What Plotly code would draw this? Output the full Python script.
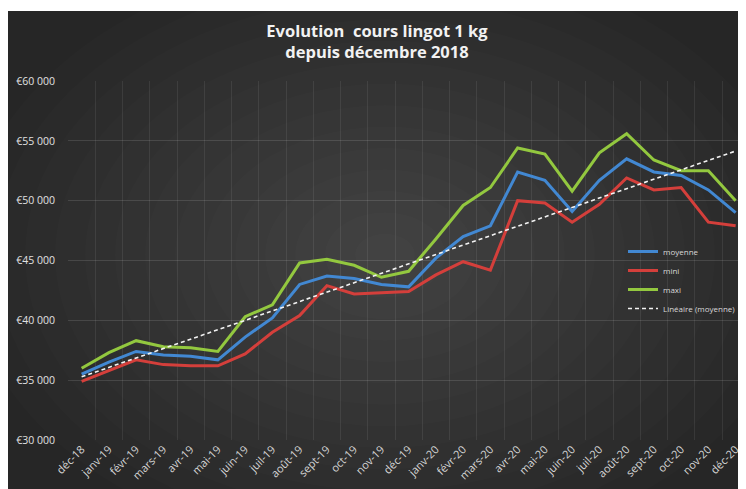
import plotly.graph_objects as go
import numpy as np

# --- data ---
mois = ['déc-18', 'janv-19', 'févr-19', 'mars-19', 'avr-19', 'mai-19', 'juin-19',
        'juil-19', 'août-19', 'sept-19', 'oct-19', 'nov-19', 'déc-19', 'janv-20',
        'févr-20', 'mars-20', 'avr-20', 'mai-20', 'juin-20', 'juil-20', 'août-20',
        'sept-20', 'oct-20', 'nov-20', 'déc-20']
moyenne = [35500, 36500, 37400, 37100, 37000, 36700, 38600, 40200, 43000, 43700,
           43500, 43000, 42800, 45200, 47000, 47900, 52400, 51700, 49100, 51700,
           53500, 52400, 52100, 50900, 49000]
mini = [34900, 35800, 36700, 36300, 36200, 36200, 37200, 39000, 40400, 42900,
        42200, 42300, 42400, 43800, 44900, 44200, 50000, 49800, 48200, 49700,
        51900, 50900, 51100, 48200, 47900]
maxi = [36000, 37300, 38300, 37800, 37700, 37400, 40300, 41300, 44800, 45100,
        44600, 43600, 44100, 46800, 49600, 51100, 54400, 53900, 50800, 54000,
        55600, 53400, 52500, 52500, 50000]
y_ticks = [30000, 35000, 40000, 45000, 50000, 55000, 60000]
y_labels = ['€30 000', '€35 000', '€40 000', '€45 000', '€50 000', '€55 000', '€60 000']

# Excel style linear trendline on moyenne
idx = np.arange(len(moyenne))
a, b = np.polyfit(idx, moyenne, 1)
trend = a * idx + b

# page has an 8px body margin, so the figure sits at (8, 8)
OFF = 8
W, H = 746 - OFF, 489 - OFF
L, R, T, B = 60, 0, 73, 49
pw, ph = W - L - R, H - T - B
cat_w = 27.25


def px2x(px):
    # page pixel -> paper x
    return (px - OFF - L) / pw


def py2y(py):
    # page pixel -> paper y
    return (H - B - (py - OFF)) / ph


fig = go.Figure()
fig.add_trace(go.Scatter(x=mois, y=moyenne, name='moyenne', mode='lines',
                         line=dict(color='#4288d2', width=3)))
fig.add_trace(go.Scatter(x=mois, y=mini, name='mini', mode='lines',
                         line=dict(color='#d43f3b', width=3)))
fig.add_trace(go.Scatter(x=mois, y=maxi, name='maxi', mode='lines',
                         line=dict(color='#93c83f', width=3)))
fig.add_trace(go.Scatter(x=mois, y=trend, name='Linéaire (moyenne)', mode='lines',
                         line=dict(color='#f2f2f2', width=1.6, dash='4px,3px')))

# dark chart area with a soft radial glow
shapes = [dict(type='rect', xref='paper', yref='paper', layer='below',
               x0=px2x(8), x1=px2x(760), y0=py2y(500), y1=py2y(11),
               fillcolor='#262626', line=dict(width=0))]
n = 14
for k in range(n):
    f = 1 - k / n
    rx, ry = 420 * f, 300 * f
    cx, cy = 385, 255
    shapes.append(dict(type='circle', xref='paper', yref='paper', layer='below',
                       x0=px2x(cx - rx), x1=px2x(cx + rx),
                       y0=py2y(cy + ry), y1=py2y(cy - ry),
                       fillcolor='rgba(255,255,255,0.0125)', line=dict(width=0)))

fig.update_layout(
    width=W, height=H,
    margin=dict(l=L, r=R, t=T, b=B),
    paper_bgcolor='white',
    plot_bgcolor='rgba(0,0,0,0)',
    shapes=shapes,
    font=dict(family='Open Sans', color='#d9d9d9'),
    title=dict(text='<b>Evolution  cours lingot 1 kg<br>depuis décembre 2018</b>',
               x=0.5, xref='container', xanchor='center',
               y=1 - (37 - OFF) / H, yref='container', yanchor='middle',
               font=dict(size=16.5, color='#f2f2f2', family='Open Sans')),
    legend=dict(x=px2x(623), y=py2y(237), xanchor='left', yanchor='top',
                bgcolor='rgba(0,0,0,0)', font=dict(size=8, color='#d9d9d9'),
                itemwidth=30),
    showlegend=True,
)
fig.update_xaxes(type='category', range=[-0.5, -0.5 + pw / cat_w],
                 tickson='boundaries', showgrid=True, gridcolor='rgba(255,255,255,0.08)',
                 gridwidth=1, ticks='', tickangle=-45, showline=False, zeroline=False,
                 tickfont=dict(size=11, color='#d6d6d6', family='Open Sans'))
fig.update_yaxes(range=[30000, 60000], tickvals=y_ticks, ticktext=y_labels,
                 showgrid=True, gridcolor='rgba(255,255,255,0.12)', gridwidth=1,
                 zeroline=False, showline=False, ticks='', ticklabelstandoff=12,
                 tickfont=dict(size=10.5, color='#e0e0e0', family='Open Sans'))

fig.write_html('out.html')
